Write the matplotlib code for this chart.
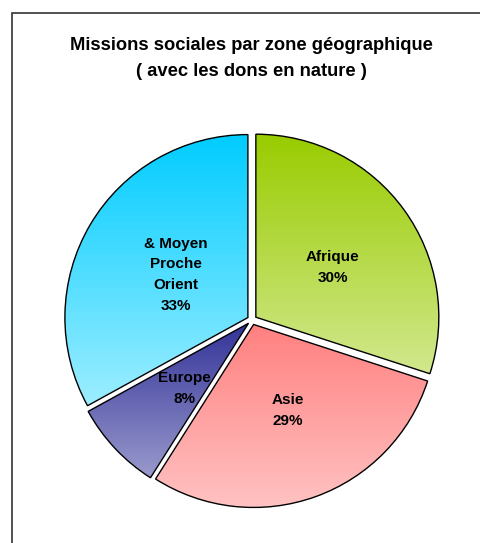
import numpy as np
import matplotlib.pyplot as plt
from matplotlib.colors import LinearSegmentedColormap
from matplotlib.patches import Rectangle

# Données
zones = ['Afrique', 'Asie', 'Europe', '& Moyen\nProche\nOrient']
parts = [30, 29, 8, 33]
haut = ['#99cc00', '#ff8080', '#333399', '#00ccff']
bas = ['#d2e88e', '#ffc2c2', '#9a9acd', '#9deeff']
decalage = [(0.0, -0.035), (0.01, 0.02), (0.03, 0.0), (0.055, -0.03)]

plt.rcParams['font.family'] = ['Liberation Sans', 'DejaVu Sans']

fig = plt.figure(figsize=(4.81, 5.43), dpi=100)
ax = fig.add_axes([0.1054, 0.040, 0.837, 0.7414])

wedges, texts = ax.pie(parts, startangle=90, counterclock=False,
                       explode=[0.026] * 4, radius=1,
                       labels=[f'{z}\n{p}%' for z, p in zip(zones, parts)],
                       labeldistance=0.52,
                       wedgeprops=dict(edgecolor='black', linewidth=1.0))

for t, (dx, dy) in zip(texts, decalage):
    x, y = t.get_position()
    t.set_position((x + dx, y + dy))
    t.set_ha('center')
    t.set_va('center')
    t.set_fontsize(11)
    t.set_fontweight('bold')
    t.set_linespacing(1.6)
    t.set_zorder(5)

# Dégradé vertical dans chaque part
for w, c1, c2 in zip(wedges, haut, bas):
    ext = w.get_path().get_extents()
    cmap = LinearSegmentedColormap.from_list('g', [c1, c2])
    grad = np.linspace(0, 1, 256).reshape(-1, 1)
    im = ax.imshow(grad, cmap=cmap, aspect='auto',
                   extent=[ext.x0, ext.x1, ext.y0, ext.y1],
                   origin='upper', zorder=1)
    im.set_clip_path(w)
    w.set_facecolor('none')
    w.set_zorder(2)

ax.set_xlim(-1.1, 1.1)
ax.set_ylim(-1.1, 1.1)
ax.set_aspect('equal')
ax.axis('off')

fig.text(251 / 481, 1 - 45 / 543, 'Missions sociales par zone géographique',
         ha='center', va='center', fontsize=13.2, fontweight='bold')
fig.text(251 / 481, 1 - 71 / 543, '( avec les dons en nature )',
         ha='center', va='center', fontsize=13.2, fontweight='bold')

# Cadre
fig.patches.append(Rectangle((12 / 481, -0.1), 1.2, 1.1 - 13 / 543,
                             transform=fig.transFigure, fill=False,
                             edgecolor='#333333', linewidth=1.2))

fig.savefig('out.png', dpi=100)
